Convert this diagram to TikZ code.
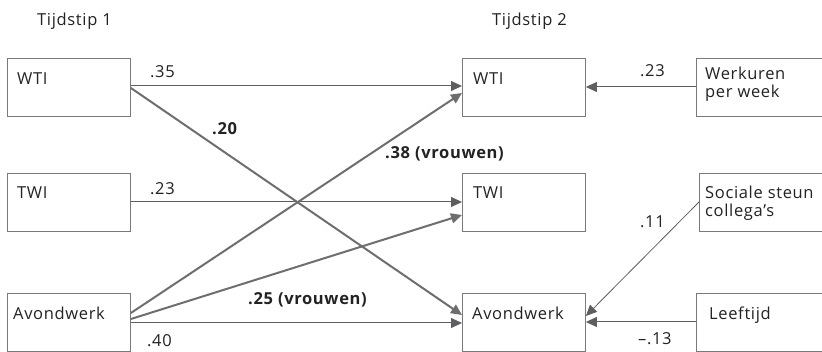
\documentclass[tikz,border=0pt]{standalone}
\usepackage{fontspec}
\setmainfont{Open Sans}[LetterSpace=4]
\usetikzlibrary{arrows.meta}
\definecolor{boxline}{HTML}{7A7A7A}
\definecolor{thinline}{HTML}{5E5E60}
\definecolor{thickline}{HTML}{6E6E70}
\definecolor{ink}{HTML}{222222}
\begin{document}
\begin{tikzpicture}[x=1pt, y=-1pt,
  varbox/.style={draw=boxline, line width=0.9pt, rectangle, inner sep=0pt,
    minimum width=123pt, minimum height=58pt, anchor=north west},
  widebox/.style={varbox, minimum width=140pt},
  boxtext/.style={anchor=base west, inner sep=0pt, text=ink, font=\fontsize{16.5}{19}\selectfont, align=left},
  coef/.style={anchor=base west, inner sep=0pt, text=ink, font=\fontsize{16.5}{19}\selectfont},
  coefbold/.style={coef, font=\fontsize{16.5}{19}\selectfont\bfseries},
  thin/.style={draw=thinline, line width=1pt, -{Triangle[length=11pt, width=10pt]}},
  thick/.style={draw=thickline, line width=2pt, -{Triangle[length=11pt, width=10pt]}}
]
\clip (0,0) rectangle (822,352);

% column headers
\node[coef] (head1) at (37,26) {Tijdstip 1};
\node[coef] (head2) at (492,26) {Tijdstip 2};

% time 1
\node[varbox] (wtiA) at (7,58) {};
\node[varbox] (twiA) at (7,173) {};
\node[varbox] (avA) at (7,293) {};
\node[boxtext] (wtiAt) at (17,85) {WTI};
\node[boxtext] (twiAt) at (17,199) {TWI};
\node[boxtext] (avAt) at (13,320) {Avondwerk};

% time 2
\node[varbox] (wtiB) at (462,58) {};
\node[varbox] (twiB) at (462,173) {};
\node[varbox] (avB) at (462,293) {};
\node[boxtext] (wtiBt) at (473,85) {WTI};
\node[boxtext] (twiBt) at (473,199) {TWI};
\node[boxtext] (avBt) at (472,320) {Avondwerk};

% predictors (two-line labels are anchored on the baseline of their last line)
\node[widebox] (uren) at (696,58) {};
\node[widebox] (steun) at (699,173) {};
\node[widebox] (leeft) at (696,293) {};
\node[boxtext] (urent) at (705,98) {Werkuren\\[-1pt]per week};
\node[boxtext] (steunt) at (705,217) {Sociale steun\\[-1pt]collega’s};
\node[boxtext] (leeftt) at (709,320) {Leeftijd};

% stability paths
\draw[thin] ([yshift=-28pt]wtiA.north east) -- ([yshift=-28pt]wtiB.north west);
\draw[thin] ([yshift=-29pt]twiA.north east) -- ([yshift=-29pt]twiB.north west);
\draw[thin] ([yshift=-30pt]avA.north east) -- ([yshift=-30pt]avB.north west);

% cross-lagged paths
\draw[thick] ([yshift=-30pt]wtiA.north east) -- ([yshift=-22pt]avB.north west);
\draw[thick] ([yshift=-20pt]avA.north east) -- ([yshift=-35pt]wtiB.north west);
\draw[thick] ([yshift=-26pt]avA.north east) -- ([yshift=-42pt]twiB.north west);

% predictor paths
\draw[thin] ([yshift=-29pt]uren.north west) -- ([yshift=-29pt]wtiB.north east);
\draw[thin, line width=0.8pt] ([yshift=-29pt]steun.north west) -- ([yshift=-23pt]avB.north east);
\draw[thin] ([yshift=-29pt]leeft.north west) -- ([yshift=-29pt]avB.north east);

% coefficients
\node[coef] (c35) at (150,78) {.35};
\node[coef] (c23a) at (150,195) {.23};
\node[coef] (c40) at (147,347) {.40};
\node[coefbold] (c20) at (212,135) {.20};
\node[coefbold] (c38) at (385,159) {.38 (vrouwen)};
\node[coefbold] (c25) at (248,305) {.25 (vrouwen)};
\node[coef] (c23b) at (640,77) {.23};
\node[coef] (c11) at (640,228) {.11};
\node[coef] (c13) at (638,345) {–.13};
\end{tikzpicture}
\end{document}
